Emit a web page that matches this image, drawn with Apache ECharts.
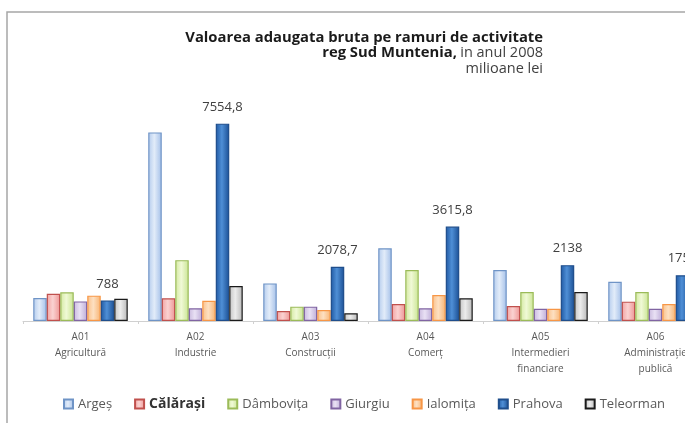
<!DOCTYPE html>
<html>
<head>
<meta charset="utf-8">
<script src="https://cdn.jsdelivr.net/npm/echarts@6/dist/echarts.min.js"></script>
<style>
  html, body { margin: 0; padding: 0; background: #fff; }
  #chart { width: 685px; height: 423px; }
</style>
</head>
<body>
<div id="chart"></div>
<script>
const categories = ['A01\nAgricultură', 'A02\nIndustrie', 'A03\nConstrucții', 'A04\nComerț', 'A05\nIntermedieri\nfinanciare', 'A06\nAdministrație\npublică'];
const counties = ['Argeș', 'Călărași', 'Dâmbovița', 'Giurgiu', 'Ialomița', 'Prahova', 'Teleorman'];

const arges = [880, 7220, 1440, 2780, 1950, 1500];
const calarasi = [1045, 870, 380, 650, 575, 740];
const dambovita = [1100, 2330, 550, 1950, 1110, 1110];
const giurgiu = [750, 485, 550, 485, 470, 470];
const ialomita = [970, 775, 420, 995, 470, 650];
const prahova = [788, 7554.8, 2078.7, 3615.8, 2138, 1753];
const teleorman = [850, 1340, 295, 870, 1110, 960];

const seriesValues = [arges, calarasi, dambovita, giurgiu, ialomita, prahova, teleorman];

// fill gradient (left, middle, right) and border per county
const styles = [
  { fill: ['#b3cbed', '#e2ecf9', '#a3bfe8'], border: '#6f94c6' },
  { fill: ['#f2a3a2', '#fad2d1', '#ee9594'], border: '#c0504d' },
  { fill: ['#d3e9a0', '#f0f9d6', '#c9e492'], border: '#9bbb59' },
  { fill: ['#c9b9de', '#e9e1f4', '#bdacd7'], border: '#8064a2' },
  { fill: ['#fac089', '#fde0c2', '#f8b371'], border: '#f79646' },
  { fill: ['#1f58a2', '#4f8fd6', '#1b4f94'], border: '#1f4e8c' },
  { fill: ['#c4c4c4', '#ececec', '#b8b8b8'], border: '#1a1a1a' },
];

const chart = echarts.init(document.getElementById('chart'));

const series = counties.map((name, i) => ({
  name,
  type: 'bar',
  barGap: '0%',
  barWidth: 13.5,
  data: seriesValues[i],
  itemStyle: {
    color: new echarts.graphic.LinearGradient(0, 0, 1, 0, [
      { offset: 0, color: styles[i].fill[0] },
      { offset: 0.45, color: styles[i].fill[1] },
      { offset: 1, color: styles[i].fill[2] },
    ]),
    borderColor: styles[i].border,
    borderWidth: 1.2,
  },
  label: name === 'Prahova' ? {
    show: true,
    position: 'top',
    distance: 10,
    color: '#404040',
    fontSize: 13,
    fontFamily: 'Open Sans',
    formatter: (p) => String(p.value).replace('.', ','),
  } : { show: false },
}));

const option = {
  animation: false,
  backgroundColor: '#fff',
  textStyle: { fontFamily: 'Open Sans' },
  graphic: [
    {
      type: 'rect',
      shape: { x: 7, y: 12, width: 700, height: 420 },
      style: { fill: 'none', stroke: '#a6a6a6', lineWidth: 1.5 },
      silent: true,
    },
    {
      type: 'text',
      right: 142, top: 30,
      style: {
        text: 'Valoarea adaugata bruta pe ramuri de activitate',
        font: 'bold 14.8px "Open Sans"',
        fill: '#1a1a1a',
      },
    },
    {
      type: 'text',
      right: 142, top: 45,
      style: {
        text: '{b|reg Sud Muntenia,} {n|in anul 2008}',
        rich: {
          b: { font: 'bold 14.8px "Open Sans"', fill: '#1a1a1a' },
          n: { font: '14.5px "Open Sans"', fill: '#404040' },
        },
      },
    },
    {
      type: 'text',
      right: 142, top: 61,
      style: {
        text: 'milioane lei',
        font: '14.5px "Open Sans"',
        fill: '#404040',
      },
    },
  ],
  legend: {
    data: counties,
    left: 58,
    top: 392,
    icon: 'rect',
    itemWidth: 9,
    itemHeight: 9,
    itemGap: 22,
    textStyle: {
      color: '#595959',
      fontSize: 13,
      fontFamily: 'Open Sans',
      rich: {
        big: { fontSize: 14, fontWeight: 'bold', color: '#333', fontFamily: 'Open Sans' },
      },
    },
    formatter: (name) => name === 'Călărași' ? '{big|' + name + '}' : name,
  },
  grid: {
    left: 23,
    width: 690,
    top: 112,
    bottom: 102,
    containLabel: false,
    outerBoundsMode: 'none',
  },
  xAxis: {
    type: 'category',
    data: categories,
    axisLine: { lineStyle: { color: '#d0d0d0', width: 1 } },
    axisTick: { show: true, length: 3, lineStyle: { color: '#d0d0d0' } },
    axisLabel: {
      color: '#595959',
      fontSize: 10,
      lineHeight: 16,
      margin: 8,
      interval: 0,
    },
  },
  yAxis: {
    type: 'value',
    min: 0,
    max: 8000,
    show: false,
    splitLine: { show: false },
  },
  series,
};

chart.setOption(option);
</script>
</body>
</html>
